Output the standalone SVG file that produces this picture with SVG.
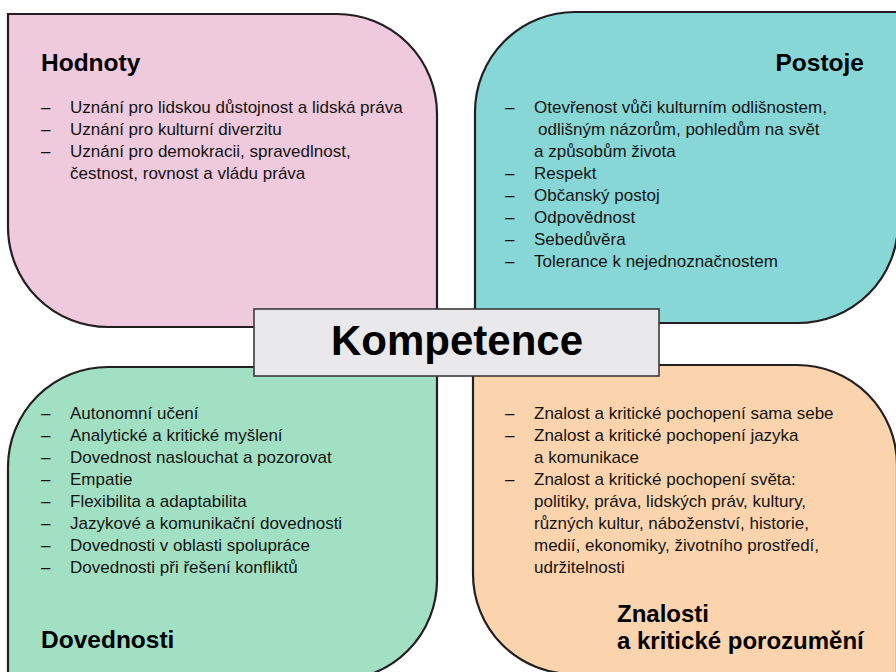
<svg xmlns="http://www.w3.org/2000/svg" width="896" height="672" viewBox="0 0 896 672">
<style>
.shape{stroke:#231f20;stroke-width:2.2}
.t{font-family:"Liberation Sans",Arial,sans-serif;font-size:17px;fill:#141414}
.h{font-family:"Liberation Sans",Arial,sans-serif;font-size:24.5px;font-weight:bold;fill:#000}
.k{font-family:"Liberation Sans",Arial,sans-serif;font-size:42px;font-weight:bold;fill:#000}
</style>
<rect width="896" height="672" fill="#fff"/>
<g id="hodnoty">
<path class="shape" fill="#efc9dc" d="M8,14 H337 A100,100 0 0 1 437,114 V327 H108 A100,100 0 0 1 8,227 Z"/>
<text class="h" x="41" y="71">Hodnoty</text>
<g class="t">
<text x="41" y="113">–</text><text x="70" y="113">Uznání pro lidskou důstojnost a lidská práva</text>
<text x="41" y="135">–</text><text x="70" y="135">Uznání pro kulturní diverzitu</text>
<text x="41" y="157">–</text><text x="70" y="157">Uznání pro demokracii, spravedlnost,</text>
<text x="70" y="179">čestnost, rovnost a vládu práva</text>
</g>
</g>
<g id="postoje">
<path class="shape" fill="#88d7d7" d="M575,12 H898 V223 A100,100 0 0 1 798,323 H475 V112 A100,100 0 0 1 575,12 Z"/>
<text class="h" x="864" y="71" text-anchor="end">Postoje</text>
<g class="t">
<text x="505" y="113">–</text><text x="534" y="113">Otevřenost vůči kulturním odlišnostem,</text>
<text x="538" y="135">odlišným názorům, pohledům na svět</text>
<text x="534" y="157">a způsobům života</text>
<text x="505" y="179">–</text><text x="534" y="179">Respekt</text>
<text x="505" y="201">–</text><text x="534" y="201">Občanský postoj</text>
<text x="505" y="223">–</text><text x="534" y="223">Odpovědnost</text>
<text x="505" y="245">–</text><text x="534" y="245">Sebedůvěra</text>
<text x="505" y="267">–</text><text x="534" y="267">Tolerance k nejednoznačnostem</text>
</g>
</g>
<g id="dovednosti">
<path class="shape" fill="#a2e0c4" d="M108,367 H437 V580 A100,100 0 0 1 337,680 H8 V467 A100,100 0 0 1 108,367 Z"/>
<g class="t">
<text x="41" y="419">–</text><text x="70" y="419">Autonomní učení</text>
<text x="41" y="441">–</text><text x="70" y="441">Analytické a kritické myšlení</text>
<text x="41" y="463">–</text><text x="70" y="463">Dovednost naslouchat a pozorovat</text>
<text x="41" y="485">–</text><text x="70" y="485">Empatie</text>
<text x="41" y="507">–</text><text x="70" y="507">Flexibilita a adaptabilita</text>
<text x="41" y="529">–</text><text x="70" y="529">Jazykové a komunikační dovednosti</text>
<text x="41" y="551">–</text><text x="70" y="551">Dovednosti v oblasti spolupráce</text>
<text x="41" y="573">–</text><text x="70" y="573">Dovednosti při řešení konfliktů</text>
</g>
<text class="h" x="41" y="648">Dovednosti</text>
</g>
<g id="znalosti">
<path class="shape" fill="#fbd4ae" d="M473,365 H797 A100,100 0 0 1 897,465 V674 H573 A100,100 0 0 1 473,574 Z"/>
<g class="t">
<text x="505" y="419">–</text><text x="534" y="419">Znalost a kritické pochopení sama sebe</text>
<text x="505" y="441">–</text><text x="534" y="441">Znalost a kritické pochopení jazyka</text>
<text x="534" y="463">a komunikace</text>
<text x="505" y="485">–</text><text x="534" y="485">Znalost a kritické pochopení světa:</text>
<text x="534" y="507">politiky, práva, lidských práv, kultury,</text>
<text x="534" y="529">různých kultur, náboženství, historie,</text>
<text x="534" y="551">medií, ekonomiky, životního prostředí,</text>
<text x="534" y="573">udržitelnosti</text>
</g>
<text class="h" x="617" y="622" style="font-size:24px">Znalosti</text>
<text class="h" x="617" y="649" style="font-size:24px">a kritické porozumění</text>
</g>
<g id="kompetence">
<rect x="254" y="309" width="405" height="67" fill="#e9e9ec" stroke="#3a3a3a" stroke-width="1.6"/>
<text class="k" x="457" y="355" text-anchor="middle">Kompetence</text>
</g>
<g id="connectors"/>
</svg>
